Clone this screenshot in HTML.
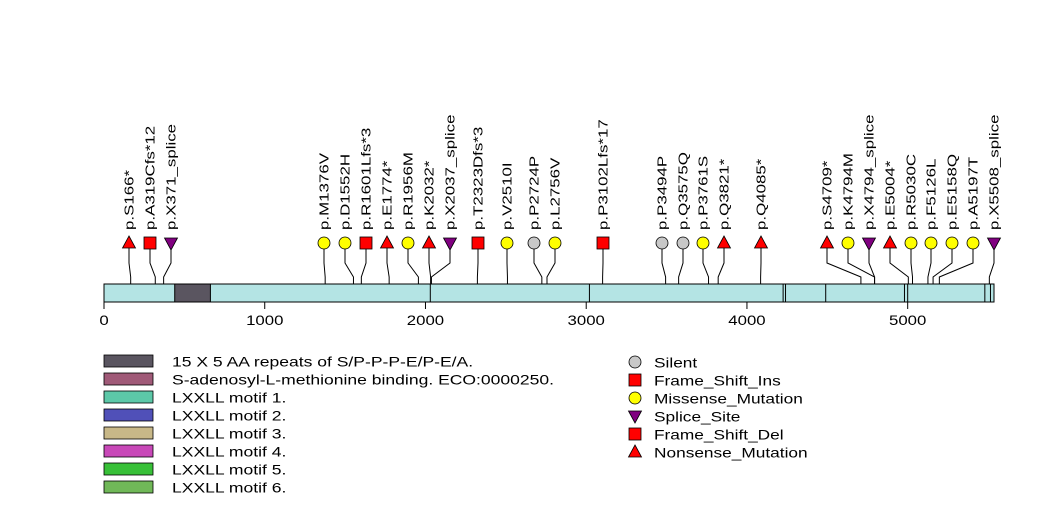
<!DOCTYPE html>
<html><head><meta charset="utf-8"><style>
body{margin:0;background:#fff;}
svg{display:block;font-family:"Liberation Sans",sans-serif;}
</style></head><body>
<svg id="chart" width="1047" height="524" xmlns="http://www.w3.org/2000/svg"></svg>
<script>
const labels=["p.S166*","p.A319Cfs*12","p.X371_splice","p.M1376V","p.D1552H","p.R1601Lfs*3","p.E1774*","p.R1956M","p.K2032*","p.X2037_splice","p.T2323Dfs*3","p.V2510I","p.P2724P","p.L2756V","p.P3102Lfs*17","p.P3494P","p.Q3575Q","p.P3761S","p.Q3821*","p.Q4085*","p.S4709*","p.K4794M","p.X4794_splice","p.E5004*","p.R5030C","p.F5126L","p.E5158Q","p.A5197T","p.X5508_splice"];
const positions=[166,319,371,1376,1552,1601,1774,1956,2032,2037,2323,2510,2724,2756,3102,3494,3575,3761,3821,4085,4709,4794,4794,5004,5030,5126,5158,5197,5508];
const types=["non","fsi","spl","mis","mis","fsi","non","mis","non","spl","fsd","mis","sil","mis","fsd","sil","sil","mis","non","non","non","mis","spl","non","mis","mis","mis","mis","spl"];
const markerX=[129,150,171,324,345,366,387,408,429,450,478,507,534,555,603,662,683,703,724,761,827,848,869,890,911,931,952,973,994];
const ticks=[0,1000,2000,3000,4000,5000];
const proteinLength=5537;
const domainStart=[440];const domainEnd=[662];
const motifLines=[2030,3020,4225,4240,4490,4980,5000,5480,5515];
const NS="http://www.w3.org/2000/svg";
const svg=document.getElementById('chart');
const x=v=>104+v*(994-104)/proteinLength;
function el(t,a,p){const e=document.createElementNS(NS,t);for(const k in a)e.setAttribute(k,a[k]);(p||svg).appendChild(e);return e;}
const bar=el('rect',{x:104,y:284,width:x(proteinLength)-104,height:18,fill:'#b4e4e4',stroke:'#000','stroke-width':1});

domainStart.forEach((s,i)=>{const d=el('rect',{x:x(s),y:284,width:x(domainEnd[i])-x(s),height:18,fill:'#5a5560',stroke:'#000'});
});
motifLines.forEach(m=>{const l=el('line',{x1:x(m),x2:x(m),y1:284,y2:302,stroke:'#000','stroke-width':1});
});
el('line',{x1:104,x2:x(proteinLength),y1:302,y2:302,stroke:'#000'});
ticks.forEach(t=>{const g=el('g',{});
el('line',{x1:x(t),x2:x(t),y1:302,y2:309,stroke:'#000'},g);
const tx=el('text',{x:0,y:0,transform:`translate(${x(t)},325) scale(1.2,1)`,'font-size':14,'text-anchor':'middle',fill:'#000'},g);tx.textContent=t;});
const colors={non:'#ff0000',fsi:'#ff0000',fsd:'#ff0000',spl:'#800080',mis:'#ffff00',sil:'#c8c8c8'};
function marker(t,cx,cy,parent){
 if(t==='mis'||t==='sil')return el('circle',{cx:cx,cy:cy,r:6,fill:colors[t],stroke:'#000','stroke-width':0.8},parent);
 if(t==='fsi'||t==='fsd')return el('rect',{x:cx-6,y:cy-6,width:12,height:12,fill:colors[t],stroke:'#000','stroke-width':0.8},parent);
 if(t==='non')return el('polygon',{points:`${cx},${cy-7} ${cx+6.5},${cy+5} ${cx-6.5},${cy+5}`,fill:colors[t],stroke:'#000','stroke-width':0.8},parent);
 return el('polygon',{points:`${cx-6.5},${cy-5} ${cx+6.5},${cy-5} ${cx},${cy+7}`,fill:colors[t],stroke:'#000','stroke-width':0.8},parent);
}
positions.forEach((p,i)=>{
 const g=el('g',{});
 const px=x(p),mx=markerX[i];
 el('polyline',{points:`${px},284 ${px},277 ${mx},263 ${mx},245`,fill:'none',stroke:'#000','stroke-width':1},g);
 marker(types[i],mx,243,g);
 const t=el('text',{x:0,y:0,transform:`translate(${mx+4.5},230) rotate(-90) scale(1.3,1)`,'font-size':13,fill:'#000'},g);t.textContent=labels[i];
});
const domLeg=["15 X 5 AA repeats of S/P-P-P-E/P-E/A.","S-adenosyl-L-methionine binding. ECO:0000250.","LXXLL motif 1.","LXXLL motif 2.","LXXLL motif 3.","LXXLL motif 4.","LXXLL motif 5.","LXXLL motif 6."];
const domCol=['#5a5560','#a05a78','#5cc8a8','#5050b8','#c8b888','#c848b8','#38c038','#70b858'];
domLeg.forEach((n,i)=>{const g=el('g',{});
 el('rect',{x:104,y:355+i*18,width:49,height:12,fill:domCol[i],stroke:'#000','stroke-width':0.8},g);
 const t=el('text',{x:0,y:0,transform:`translate(172,366.5) translate(0,${i*18}) scale(1.3,1)`,'font-size':13.5,fill:'#000'},g);t.textContent=n;});
const mutLeg=["Silent","Frame_Shift_Ins","Missense_Mutation","Splice_Site","Frame_Shift_Del","Nonsense_Mutation"];
const mutTyp=["sil","fsi","mis","spl","fsd","non"];
mutLeg.forEach((n,i)=>{const g=el('g',{});
 marker(mutTyp[i],635,362+i*18,g);
 const t=el('text',{x:0,y:0,transform:`translate(654,367.5) translate(0,${i*18}) scale(1.28,1)`,'font-size':13.5,fill:'#000'},g);t.textContent=n;});
</script>
</body></html>
